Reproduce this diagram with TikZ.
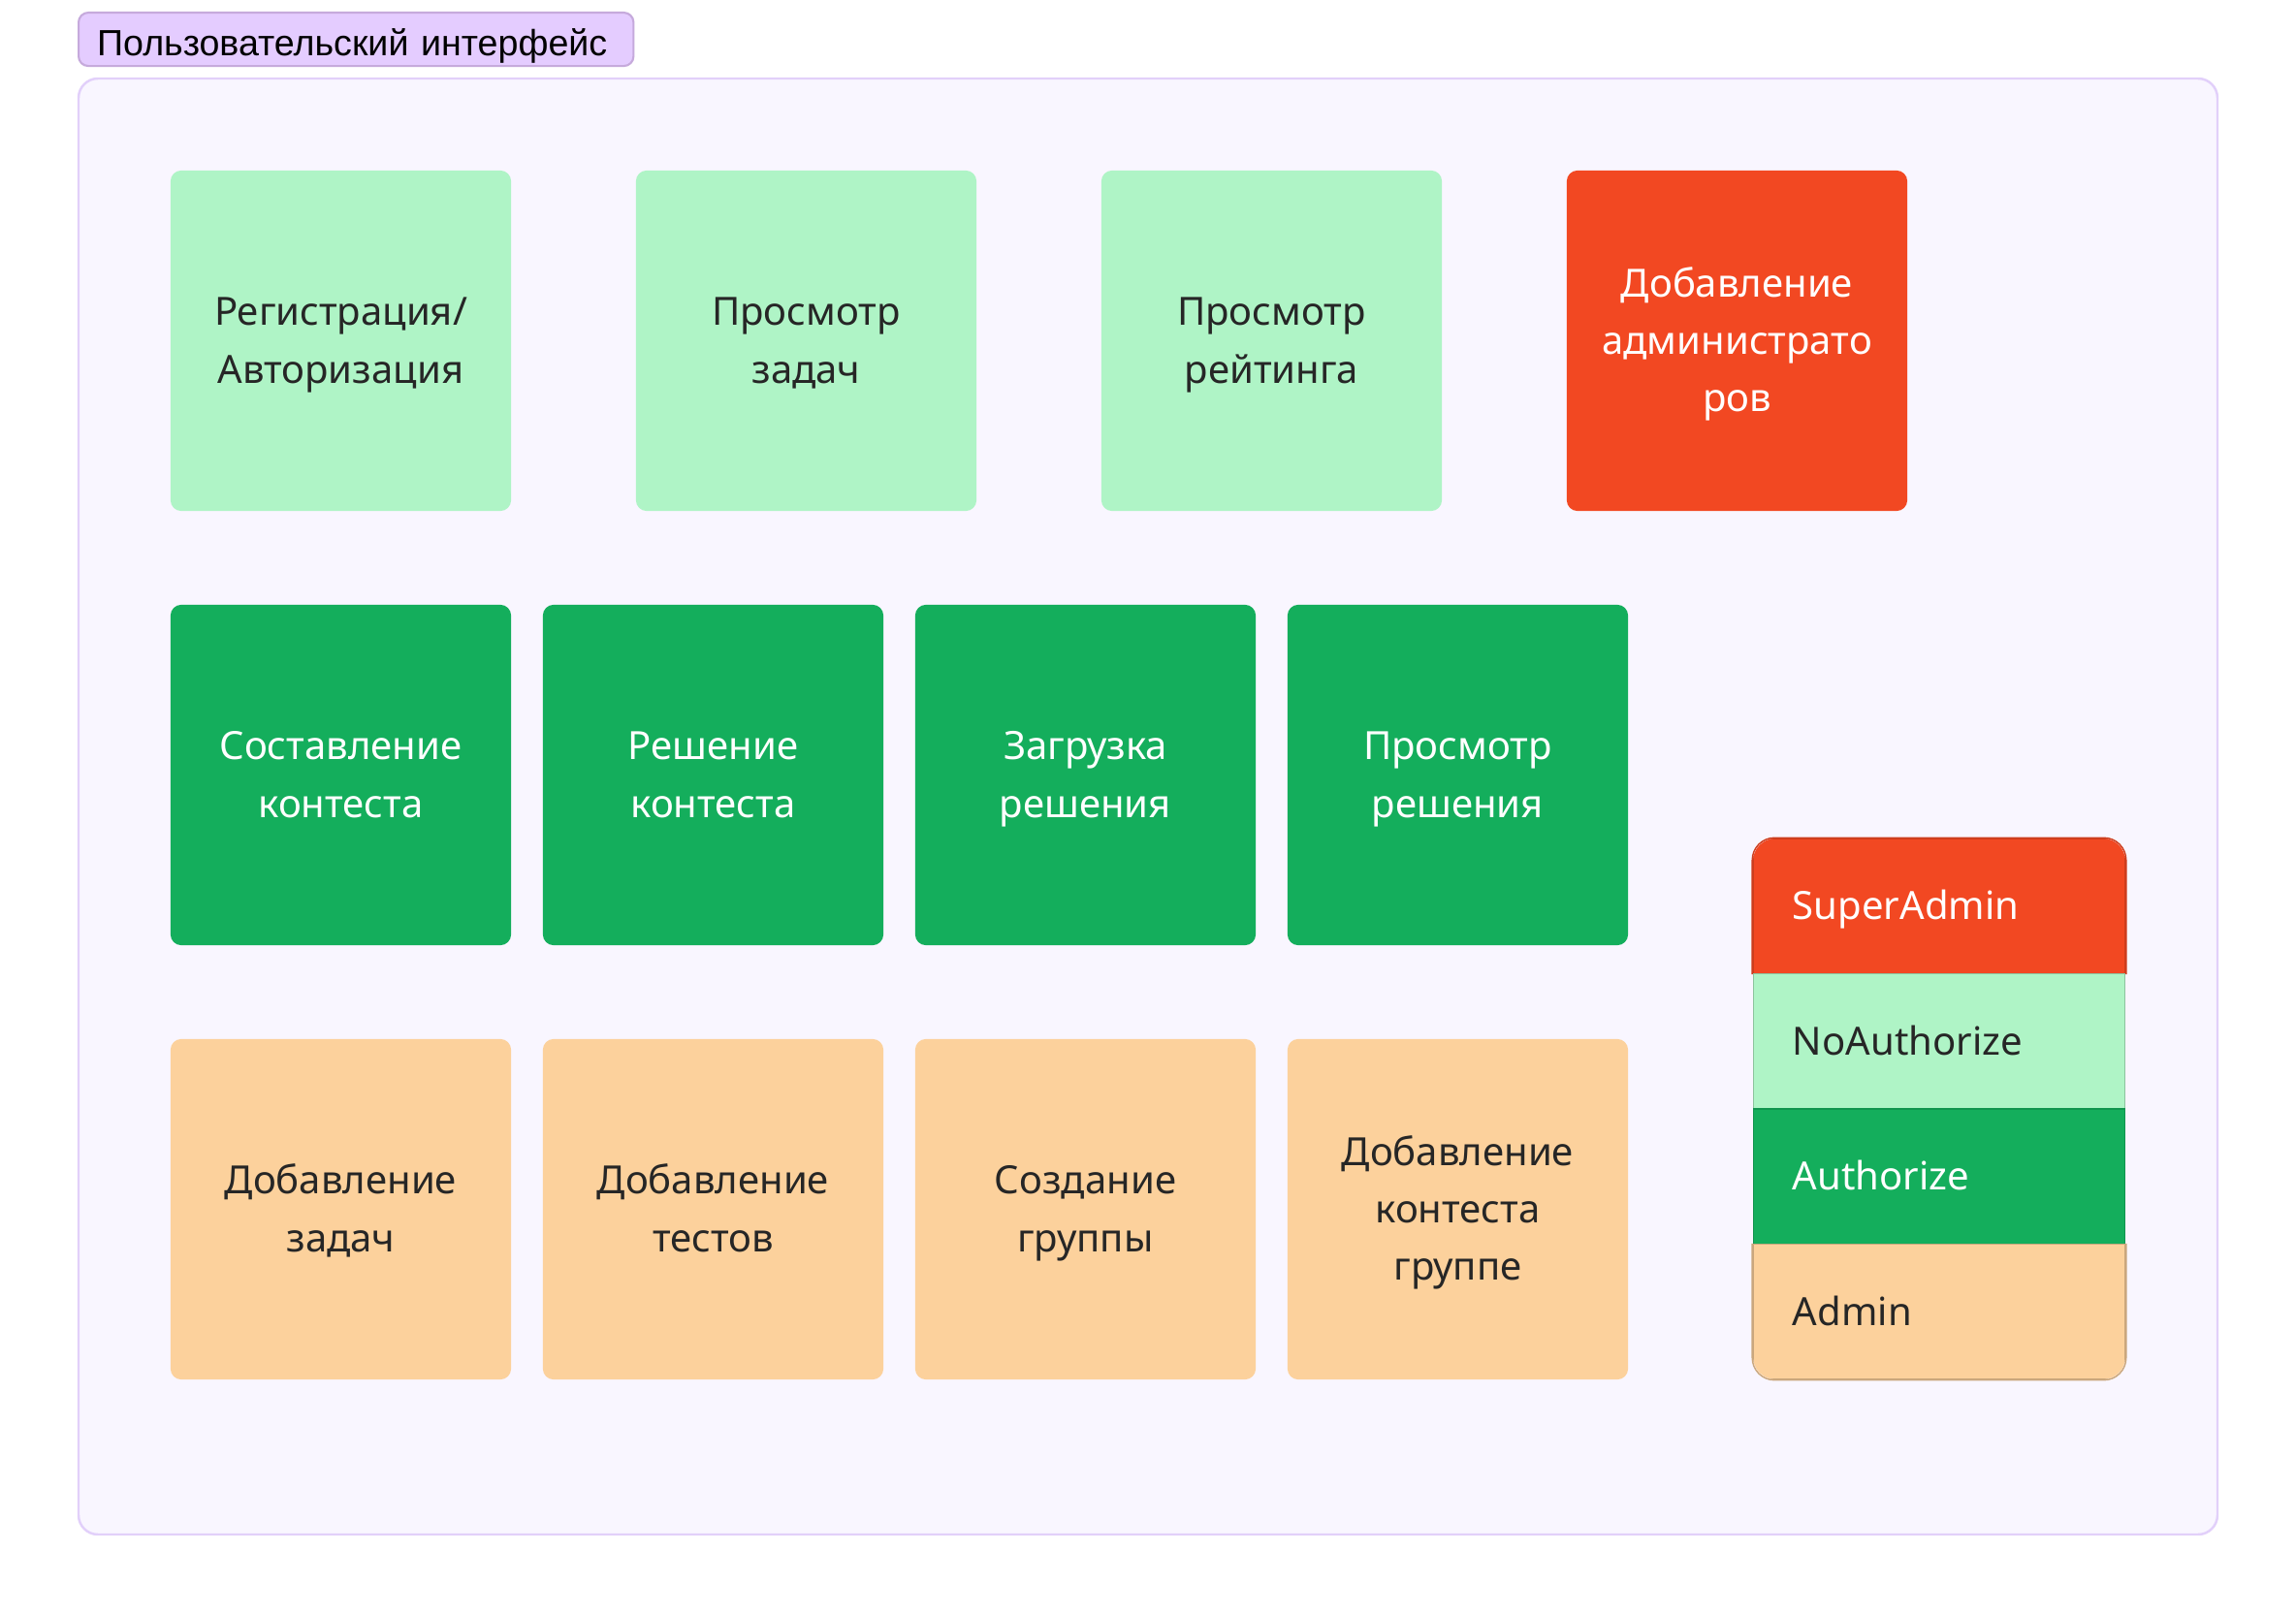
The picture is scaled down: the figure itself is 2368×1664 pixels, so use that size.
\documentclass[tikz,border=0pt]{standalone}
\usepackage{fontspec}
\setmainfont{Noto Sans}
\newfontfamily\titlefont{Liberation Sans}
\usepackage{tikz}

\definecolor{figred}{HTML}{F24822}
\definecolor{figgreen}{HTML}{14AE5C}
\definecolor{figlight}{HTML}{AFF4C6}
\definecolor{figorange}{HTML}{FCD19C}
\definecolor{figviolet}{HTML}{E4CCFF}
\definecolor{framefill}{HTML}{F9F6FF}
\definecolor{frameline}{HTML}{E2D0FA}
\definecolor{titleline}{HTML}{C6AADC}

% line box of the sticky notes
\newcommand\linestrut{\rule[-0.155cm]{0pt}{0.59cm}}
\newcommand\titlestrut{\rule[-0.11cm]{0pt}{0.55cm}}

\begin{document}
\begin{tikzpicture}[x=0.01cm, y=-0.01cm,
  tile/.style={rounded corners=0.11cm, minimum width=3.51cm, minimum height=3.51cm,
    text width=3.51cm, inner sep=0pt, align=center, font=\fontsize{11.4}{16.8}\selectfont,
    execute at begin node=\linestrut, execute at end node=\linestrut},
  noauth/.style={tile, fill=figlight, text=black!85},
  auth/.style={tile, fill=figgreen, text=white},
  admin/.style={tile, fill=figorange, text=black!85},
  superadmin/.style={tile, fill=figred, text=white},
  key/.style={minimum height=1.395cm, text width=3.02cm, inner xsep=0.41cm,
    inner ysep=0pt, align=left, font=\fontsize{11.4}{16.8}\selectfont,
    execute at begin node=\linestrut}]
\fill[white] (0,0) rectangle (2368,1664);
\useasboundingbox (0,0) rectangle (2368,1664);

% frame
\draw[fill=framefill, draw=frameline, line width=0.7pt, rounded corners=0.2cm] (81,81) rectangle (2287,1583);
\node[anchor=north west, fill=figviolet, draw=titleline, line width=0.6pt, rounded corners=0.1cm,
      text width=5.34cm, inner xsep=0.19cm, inner ysep=0pt,
      font=\titlefont\fontsize{10.7}{12}\selectfont] (title) at (80,12) {\titlestrut Пользовательский интерфейс};

% first row
\node[noauth]     (reg)      at (351.5,351.5)  {Регистрация/\\Авторизация};
\node[noauth]     (tasks)    at (831.5,351.5)  {Просмотр\\задач};
\node[noauth]     (rating)   at (1311.5,351.5) {Просмотр\\рейтинга};
\node[superadmin] (addadmin) at (1791.5,351.5) {Добавление\\администрато\\ров};

% second row
\node[auth] (compose) at (351.5,799.5)  {Составление\\контеста};
\node[auth] (solve)   at (735.5,799.5)  {Решение\\контеста};
\node[auth] (upload)  at (1119.5,799.5) {Загрузка\\решения};
\node[auth] (viewsol) at (1503.5,799.5) {Просмотр\\решения};

% third row
\node[admin] (addtasks)   at (351.5,1247.5)  {Добавление\\задач};
\node[admin] (addtests)   at (735.5,1247.5)  {Добавление\\тестов};
\node[admin] (mkgroup)    at (1119.5,1247.5) {Создание\\группы};
\node[admin] (addcontest) at (1503.5,1247.5) {Добавление\\контеста\\группе};

% legend
\begin{scope}
\clip[rounded corners=0.23cm] (1808,865) rectangle (2192,1423);
\node[key, fill=figred, draw=figred!85!black, text=white]          (keysuper) at (2000,934.75)  {SuperAdmin};
\node[key, fill=figlight, draw=figlight!80!black, text=black!85]   (keynoauth) at (2000,1074.25) {NoAuthorize};
\node[key, fill=figgreen, draw=figgreen!85!black, text=white]      (keyauth) at (2000,1213.75) {Authorize};
\node[key, fill=figorange, draw=figorange!80!black, text=black!85] (keyadmin) at (2000,1353.25) {Admin};
\end{scope}
\draw[figred!85!black, rounded corners=0.23cm] (keysuper.south west) -- (keysuper.north west) -- (keysuper.north east) -- (keysuper.south east);
\draw[figorange!80!black, rounded corners=0.23cm] (keyadmin.north west) -- (keyadmin.south west) -- (keyadmin.south east) -- (keyadmin.north east);
\end{tikzpicture}
\end{document}
